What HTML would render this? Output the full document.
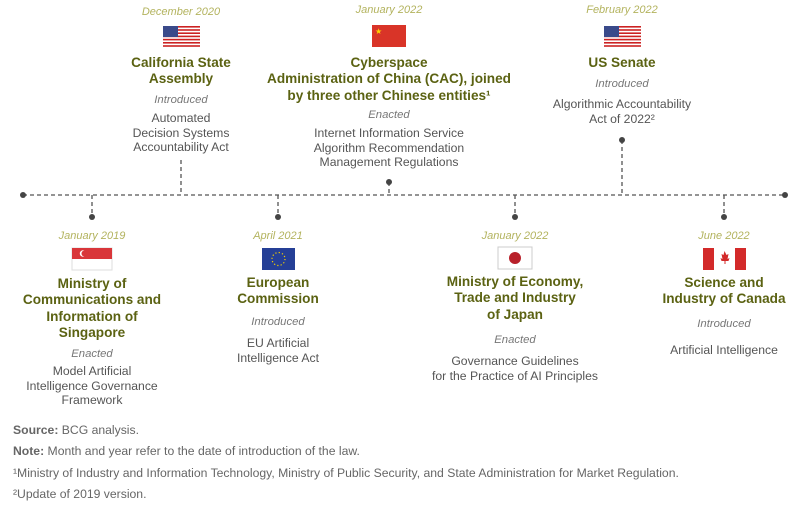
<!DOCTYPE html>
<html><head><meta charset="utf-8"><style>
body{margin:0;width:800px;height:506px;background:#fff;position:relative;overflow:hidden;font-family:"Liberation Sans",sans-serif}
.c{position:absolute;width:260px;text-align:center;white-space:nowrap}
.d{color:#b3b35e;font-style:italic;font-size:11px;line-height:14px}
.t{color:#5b6212;font-weight:bold;font-size:13.6px;line-height:16.3px}
.s{color:#777;font-style:italic;font-size:11.3px;line-height:14px}
.b{color:#555;font-size:12.2px;line-height:14.6px}
.f{position:absolute;left:13px;font-size:12.2px;color:#666;line-height:14px}
.f b{color:#666}
</style></head><body>
<svg width="800" height="506" style="position:absolute;left:0;top:0">
<g stroke="#555" stroke-width="1.3" stroke-dasharray="4,3" fill="none">
<line x1="23" y1="195" x2="785" y2="195"/>
<line x1="181" y1="160" x2="181" y2="195"/>
<line x1="389" y1="182" x2="389" y2="195"/>
<line x1="622" y1="140" x2="622" y2="195"/>
<line x1="92" y1="195" x2="92" y2="217"/>
<line x1="278" y1="195" x2="278" y2="217"/>
<line x1="515" y1="195" x2="515" y2="217"/>
<line x1="724" y1="195" x2="724" y2="217"/>
</g>
<g fill="#444">
<circle cx="23" cy="195" r="3"/><circle cx="785" cy="195" r="3"/>
<circle cx="389" cy="182" r="3"/><circle cx="622" cy="140" r="3"/>
<circle cx="92" cy="217" r="3"/><circle cx="278" cy="217" r="3"/><circle cx="515" cy="217" r="3"/><circle cx="724" cy="217" r="3"/>
</g>
<g id="us">
<rect x="163" y="26" width="37" height="21" fill="#fff"/>
<g fill="#c22">
<rect x="163" y="26" width="37" height="1.6"/><rect x="163" y="29.2" width="37" height="1.6"/><rect x="163" y="32.4" width="37" height="1.6"/><rect x="163" y="35.6" width="37" height="1.6"/><rect x="163" y="38.8" width="37" height="1.6"/><rect x="163" y="42" width="37" height="1.6"/><rect x="163" y="45.2" width="37" height="1.6"/>
</g>
<rect x="163" y="26" width="15" height="11" fill="#3a4a8a"/>
</g>
<use href="#us" x="441" y="0"/>
<rect x="372" y="25" width="34" height="22" fill="#d93428"/>
<text x="375" y="34" font-size="8" fill="#ffd400">★</text>
<rect x="72" y="248" width="40" height="22" fill="#fff" stroke="#ddd"/>
<rect x="72" y="248" width="40" height="11" fill="#d9363a"/>
<circle cx="83" cy="253.5" r="3.2" fill="#fff"/><circle cx="84.5" cy="253.5" r="3" fill="#d9363a"/>
<rect x="262" y="248" width="33" height="22" fill="#253f96"/>
<circle cx="278.5" cy="259" r="6.5" fill="none" stroke="#f5d000" stroke-width="1.2" stroke-dasharray="1.2,2.2"/>
<rect x="498" y="247" width="34" height="22" fill="#fff" stroke="#ccc"/>
<circle cx="515" cy="258" r="6" fill="#b8202a"/>
<rect x="703" y="248" width="43" height="22" fill="#fff"/>
<rect x="703" y="248" width="11" height="22" fill="#d32a2a"/><rect x="735" y="248" width="11" height="22" fill="#d32a2a"/>
<path d="M724.5 251 l2 4 2-1 -1 5 2-1 -1 3 -3 0 0 3 -1 0 0-3 -3 0 -1-3 2 1 -1-5 2 1z" fill="#d32a2a"/>
</svg>

<div class="c d" style="left:51px;top:5px">December 2020</div>
<div class="c t" style="left:51px;top:55px">California State<br>Assembly</div>
<div class="c s" style="left:51px;top:93px">Introduced</div>
<div class="c b" style="left:51px;top:111px">Automated<br>Decision Systems<br>Accountability Act</div>

<div class="c d" style="left:259px;top:3px">January 2022</div>
<div class="c t" style="left:259px;top:55px">Cyberspace<br>Administration of China (CAC), joined<br>by three other Chinese entities¹</div>
<div class="c s" style="left:259px;top:108px">Enacted</div>
<div class="c b" style="left:259px;top:126px">Internet Information Service<br>Algorithm Recommendation<br>Management Regulations</div>

<div class="c d" style="left:492px;top:3px">February 2022</div>
<div class="c t" style="left:492px;top:55px">US Senate</div>
<div class="c s" style="left:492px;top:77px">Introduced</div>
<div class="c b" style="left:492px;top:97px">Algorithmic Accountability<br>Act of 2022²</div>

<div class="c d" style="left:-38px;top:229px">January 2019</div>
<div class="c t" style="left:-38px;top:276px">Ministry of<br>Communications and<br>Information of<br>Singapore</div>
<div class="c s" style="left:-38px;top:347px">Enacted</div>
<div class="c b" style="left:-38px;top:364px">Model Artificial<br>Intelligence Governance<br>Framework</div>

<div class="c d" style="left:148px;top:229px">April 2021</div>
<div class="c t" style="left:148px;top:275px">European<br>Commission</div>
<div class="c s" style="left:148px;top:315px">Introduced</div>
<div class="c b" style="left:148px;top:336px">EU Artificial<br>Intelligence Act</div>

<div class="c d" style="left:385px;top:229px">January 2022</div>
<div class="c t" style="left:385px;top:274px">Ministry of Economy,<br>Trade and Industry<br>of Japan</div>
<div class="c s" style="left:385px;top:333px">Enacted</div>
<div class="c b" style="left:385px;top:354px">Governance Guidelines<br>for the Practice of AI Principles</div>

<div class="c d" style="left:594px;top:229px">June 2022</div>
<div class="c t" style="left:594px;top:275px">Science and<br>Industry of Canada</div>
<div class="c s" style="left:594px;top:317px">Introduced</div>
<div class="c b" style="left:594px;top:343px">Artificial Intelligence</div>

<div class="f" style="top:423px"><b>Source:</b> BCG analysis.</div>
<div class="f" style="top:444px"><b>Note:</b> Month and year refer to the date of introduction of the law.</div>
<div class="f" style="top:466px">¹Ministry of Industry and Information Technology, Ministry of Public Security, and State Administration for Market Regulation.</div>
<div class="f" style="top:487px">²Update of 2019 version.</div>
</body></html>
